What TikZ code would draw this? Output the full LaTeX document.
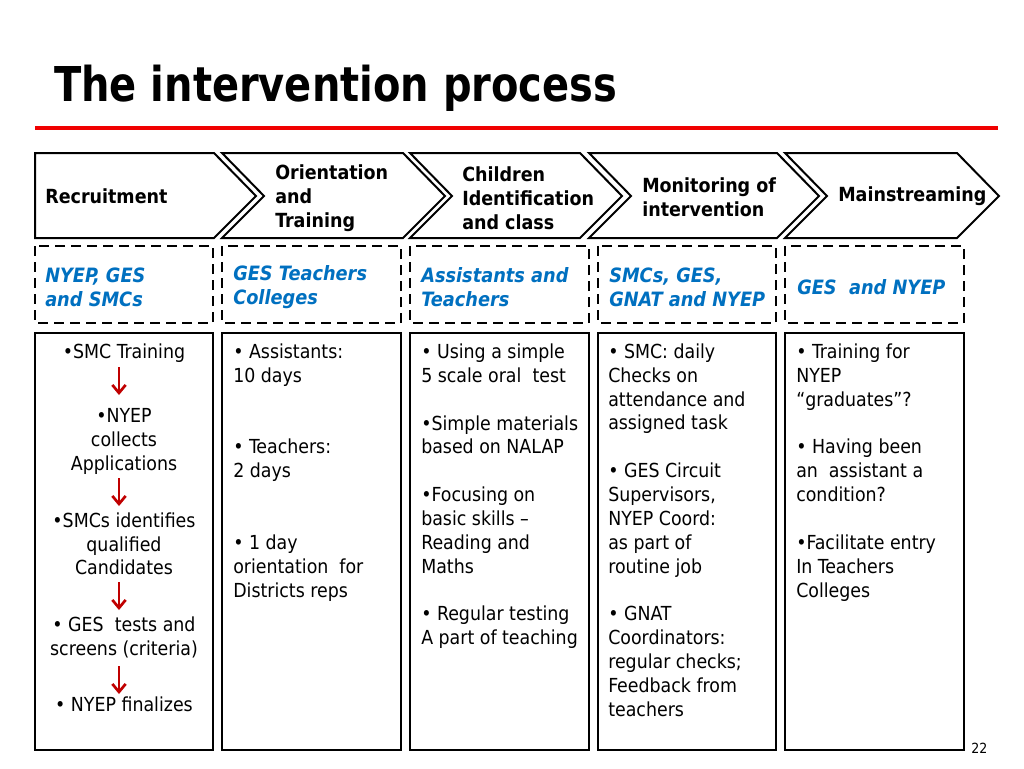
\documentclass[tikz,border=0pt]{standalone}
\usepackage{fontspec}
\setmainfont{DejaVu Sans Condensed}
\usetikzlibrary{arrows.meta}
\definecolor{bluetxt}{HTML}{0070C0}
\definecolor{redline}{HTML}{F00000}
\definecolor{redarrow}{HTML}{C00000}
\begin{document}
\begin{tikzpicture}[x=0.75pt,y=-0.75pt,
  chev/.style={draw=black,line width=1.5pt,line join=miter,fill=white},
  chevtxt/.style={font=\fontsize{14.6}{18}\selectfont\bfseries,align=left,anchor=west,inner sep=0pt},
  dbox/.style={draw=black,line width=1.9pt,dash pattern=on 7.5pt off 4.5pt},
  sbox/.style={draw=black,line width=1.1pt},
  who/.style={font=\fontsize{14.8}{18}\selectfont\bfseries\itshape,text=bluetxt,align=left,anchor=west,inner sep=0pt},
  body/.style={font=\fontsize{14.5}{18}\selectfont,inner sep=0pt},
  flow/.style={draw=redarrow,line width=2pt,-{Straight Barb[length=6pt,width=10pt,line width=2pt]}}
]
\useasboundingbox (0,0) rectangle (1024,768);
\fill[white] (0,0) rectangle (1024,768);

% title
\node[font=\fontsize{36}{40}\selectfont\bfseries,anchor=base west,inner sep=0pt] (title) at (54,101) {\scalebox{0.925}[1]{The intervention process}};
\coordinate (rl) at (35,128);
\coordinate (rr) at (998,128);
\draw[redline,line width=3pt] (rl) -- (rr);

% chevrons
\draw[chev] (35,153) -- (214,153) -- (256,196) -- (214,238) -- (35,238) -- cycle;
\draw[chev] (222,153) -- (403,153) -- (445,196) -- (403,238) -- (222,238) -- (264,196) -- cycle;
\draw[chev] (410,153) -- (580,153) -- (622,196) -- (580,238) -- (410,238) -- (452,196) -- cycle;
\draw[chev] (589,153) -- (777,153) -- (819,196) -- (777,238) -- (589,238) -- (631,196) -- cycle;
\draw[chev] (785,153) -- (957,153) -- (999,196) -- (957,238) -- (785,238) -- (827,196) -- cycle;

\node[chevtxt] (c1) at (45,196) {Recruitment};
\node[chevtxt] (c2) at (275,198) {Orientation\\and\\Training};
\node[chevtxt] (c3) at (462,198) {Children\\Identification\\and class};
\node[chevtxt] (c4) at (642,197) {Monitoring of\\intervention};
\node[chevtxt] (c5) at (838,196) {Mainstreaming};

% dashed boxes
\draw[dbox] (35,246) rectangle (213,323);
\draw[dbox] (222,246) rectangle (401,323);
\draw[dbox] (410,246) rectangle (589,323);
\draw[dbox] (598,246) rectangle (776,323);
\draw[dbox] (785,246) rectangle (964,323);

\node[who] (w1) at (45,287) {NYEP, GES\\and SMCs};
\node[who] (w2) at (233,287) {GES Teachers\\Colleges};
\node[who] (w3) at (421,287) {Assistants and\\Teachers};
\node[who] (w4) at (609,287) {SMCs, GES,\\GNAT and NYEP};
\node[who] (w5) at (797,287) {GES\ \ and NYEP};

% solid boxes
\draw[sbox] (35,333) rectangle (213,750);
\draw[sbox] (222,333) rectangle (401,750);
\draw[sbox] (410,333) rectangle (589,750);
\draw[sbox] (598,333) rectangle (776,750);
\draw[sbox] (785,333) rectangle (964,750);

% column 1
\foreach \yy/\lbl [count=\i] in {351/{\textbullet SMC Training},415/{\textbullet NYEP},439/{collects},463/{Applications},520/{\textbullet SMCs identifies},544/{qualified},567/{Candidates},624/{\textbullet\ GES\ \ tests and},648/{screens (criteria)},704/{\textbullet\ NYEP finalizes}}
  \node[body,anchor=base] (a\i) at (124,\yy+7) {\lbl};
\coordinate (f1s) at (119,367); \coordinate (f1e) at (119,395);
\coordinate (f2s) at (119,478); \coordinate (f2e) at (119,506);
\coordinate (f3s) at (119,582); \coordinate (f3e) at (119,610);
\coordinate (f4s) at (119,666); \coordinate (f4e) at (119,694);
\draw[flow] (f1s) -- (f1e);
\draw[flow] (f2s) -- (f2e);
\draw[flow] (f3s) -- (f3e);
\draw[flow] (f4s) -- (f4e);

% column 2
\foreach \yy/\lbl [count=\i] in {351/{\textbullet\ Assistants:},375/{10 days},446/{\textbullet\ Teachers:},470/{2 days},542/{\textbullet\ 1 day},566/{orientation\ \ for},590/{Districts reps}}
  \node[body,anchor=base west] (b\i) at (233,\yy+7) {\lbl};

% column 3
\foreach \yy/\lbl [count=\i] in {351/{\textbullet\ Using a simple},375/{5 scale oral\ \ test},423/{\textbullet Simple materials},446/{based on NALAP},494/{\textbullet Focusing on},518/{basic skills –},542/{Reading and},566/{Maths},613/{\textbullet\ Regular testing},637/{A part of teaching}}
  \node[body,anchor=base west] (e\i) at (421,\yy+7) {\lbl};

% column 4
\foreach \yy/\lbl [count=\i] in {351/{\textbullet\ SMC: daily},375/{Checks on},399/{attendance and},422/{assigned task},470/{\textbullet\ GES Circuit},494/{Supervisors,},518/{NYEP Coord:},542/{as part of},566/{routine job},613/{\textbullet\ GNAT},637/{Coordinators:},661/{regular checks;},685/{Feedback from},709/{teachers}}
  \node[body,anchor=base west] (g\i) at (608,\yy+7) {\lbl};

% column 5
\foreach \yy/\lbl [count=\i] in {351/{\textbullet\ Training for},375/{NYEP},399/{“graduates”?},446/{\textbullet\ Having been},470/{an\ \ assistant a},494/{condition?},542/{\textbullet Facilitate entry},566/{In Teachers},590/{Colleges}}
  \node[body,anchor=base west] (h\i) at (796,\yy+7) {\lbl};

\node[font=\fontsize{10.5}{12}\selectfont,anchor=base west,inner sep=0pt] (pg) at (971,753) {22};
\end{tikzpicture}
\end{document}
